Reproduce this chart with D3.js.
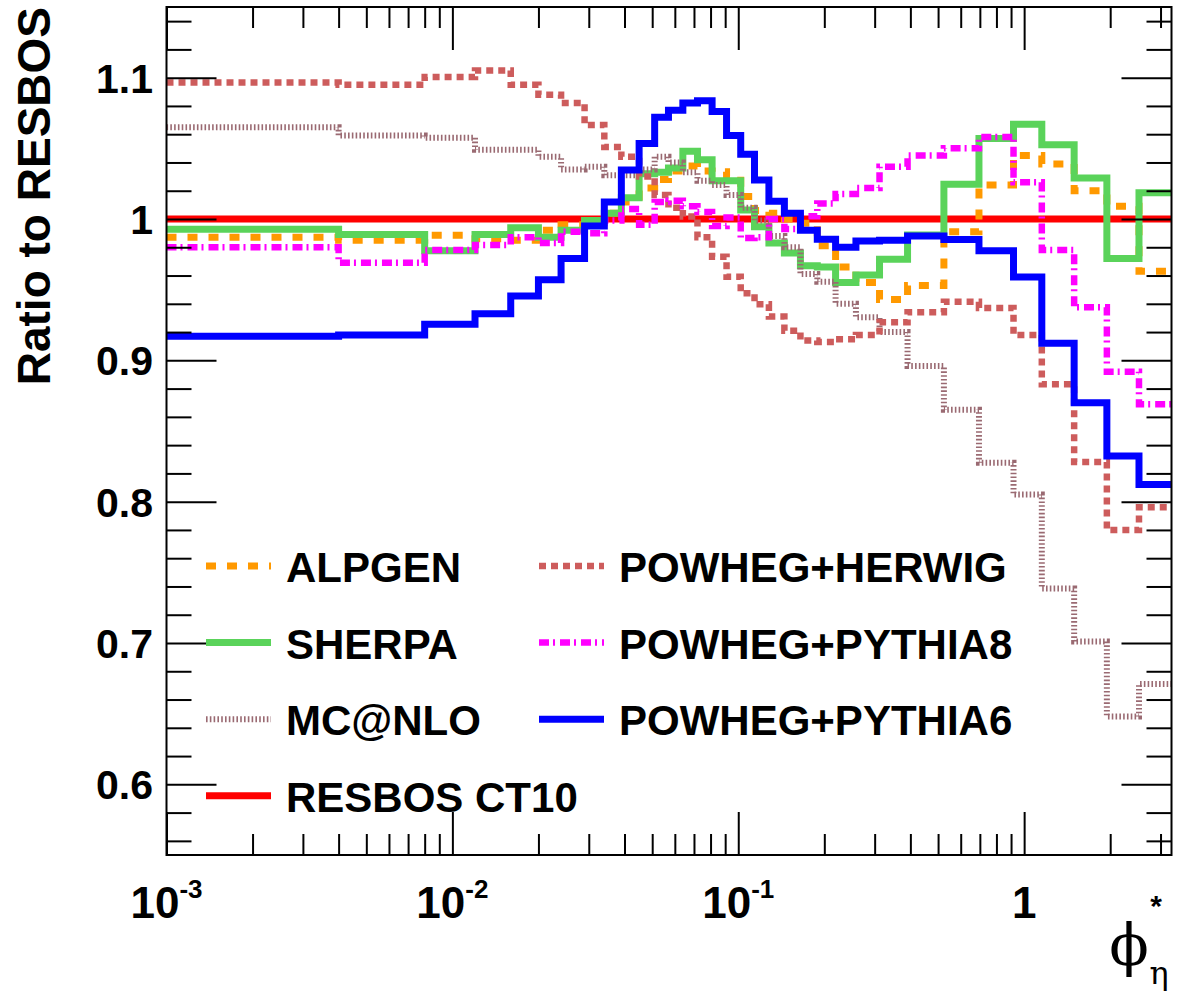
<!DOCTYPE html>
<html>
<head>
<meta charset="utf-8">
<script src="https://cdn.jsdelivr.net/npm/d3@7"></script>
<style>
  html, body { margin: 0; padding: 0; background: #fff; }
  svg { display: block; }
  text { font-family: "Liberation Sans", Arial, Helvetica, sans-serif; font-weight: bold; fill: #000; }
</style>
</head>
<body>
<svg id="chart" width="1177" height="1001"></svg>
<script>
// ---------------- data ----------------
const binEdges = [0, 0.004, 0.008, 0.012, 0.016, 0.020, 0.024, 0.029, 0.034, 0.039, 0.045,
  0.051, 0.057, 0.064, 0.072, 0.081, 0.091, 0.102, 0.114, 0.128, 0.145, 0.165, 0.189,
  0.219, 0.258, 0.312, 0.391, 0.524, 0.695, 0.918, 1.153, 1.496, 1.947, 2.522, 3.277];

const resbos = [1, 1, 1, 1, 1, 1, 1, 1, 1, 1, 1, 1, 1, 1, 1, 1, 1,
  1, 1, 1, 1, 1, 1, 1, 1, 1, 1, 1, 1, 1, 1, 1, 1, 1];
const alpgen = [0.987, 0.985, 0.9885, 0.986, 0.985, 0.992, 0.996, 0.999, 1.004, 1.012, 1.022,
  1.028, 1.034, 1.0375, 1.034, 1.0335, 1.030, 1.016, 1.006, 1.004, 1.000, 0.997, 0.981,
  0.966, 0.955, 0.943, 0.953, 0.991, 1.024, 1.045, 1.039, 1.020, 1.009, 0.963];
const sherpa = [0.9927, 0.989, 0.9776, 0.989, 0.9938, 0.987, 0.992, 0.999, 1.004, 1.015, 1.032,
  1.033, 1.036, 1.048, 1.042, 1.027, 1.027, 1.0064, 0.9946, 0.983, 0.976, 0.967, 0.966,
  0.955, 0.9604, 0.9715, 0.9887, 1.0245, 1.057, 1.067, 1.0525, 1.029, 0.972, 1.0186];
const mcatnlo = [1.065, 1.059, 1.0575, 1.049, 1.049, 1.044, 1.035, 1.037, 1.031, 1.031, 1.035,
  1.044, 1.040, 1.033, 1.027, 1.024, 1.017, 1.008, 0.999, 0.988, 0.980, 0.961, 0.9556,
  0.940, 0.9305, 0.920, 0.896, 0.865, 0.8276, 0.805, 0.7386, 0.701, 0.648, 0.671];
const powhegHerwig = [1.0965, 1.095, 1.1005, 1.105, 1.095, 1.088, 1.082, 1.0665, 1.051, 1.044, 1.030,
  1.017, 1.008, 1.0017, 0.987, 0.9733, 0.9592, 0.9474, 0.9396, 0.931, 0.921, 0.914, 0.913,
  0.915, 0.918, 0.927, 0.934, 0.9415, 0.937, 0.918, 0.883, 0.828, 0.780, 0.796];
const powhegPythia8 = [0.980, 0.969, 0.978, 0.9816, 0.987, 0.983, 0.991, 0.990, 0.999, 1.007, 0.996,
  1.012, 1.013, 1.009, 1.005, 0.995, 1.001, 0.9865, 0.987, 1.000, 0.993, 1.002, 1.011,
  1.0177, 1.022, 1.037, 1.045, 1.050, 1.058, 1.026, 0.978, 0.9375, 0.892, 0.869];
const powhegPythia6 = [0.917, 0.918, 0.9255, 0.933, 0.9455, 0.957, 0.972, 0.995, 1.012, 1.0347, 1.0535,
  1.072, 1.077, 1.082, 1.0837, 1.076, 1.059, 1.0458, 1.0276, 1.0125, 1.004, 0.992, 0.9856,
  0.980, 0.9844, 0.985, 0.988, 0.9855, 0.9776, 0.959, 0.912, 0.870, 0.8323, 0.8122];

const seriesNames = ["RESBOS CT10", "ALPGEN", "SHERPA", "MC@NLO", "POWHEG+HERWIG", "POWHEG+PYTHIA8", "POWHEG+PYTHIA6"];
const yTickLabels = ["0.6", "0.7", "0.8", "0.9", "1", "1.1"];
const xTickLabels = [["10", "-3"], ["10", "-2"], ["10", "-1"], ["1", ""]];

// ---------------- layout ----------------
const svg = d3.select("#chart");
const L = 166.5, R = 1171.5, T = 7, B = 855;
const xMin = 0.001, xMax = 3.277;
const x = d3.scaleLog().domain([xMin, xMax]).range([L, R]);
const y = d3.scaleLinear().domain([0.55, 1.15]).range([B, T]);

const styles = {
  "RESBOS CT10":     { data: resbos,        color: "#ff0000", width: 7,   dash: null },
  "ALPGEN":          { data: alpgen,        color: "#ff9900", width: 7,   dash: "10,11" },
  "SHERPA":          { data: sherpa,        color: "#5ad35a", width: 7,   dash: null },
  "MC@NLO":          { data: mcatnlo,       color: "#9a6a72", width: 6,   dash: "1.6,2.2" },
  "POWHEG+HERWIG":   { data: powhegHerwig,  color: "#cd5c5c", width: 6.5, dash: "7,5" },
  "POWHEG+PYTHIA8":  { data: powhegPythia8, color: "#ff00ff", width: 6.5, dash: "10,4,2,5" },
  "POWHEG+PYTHIA6":  { data: powhegPythia6, color: "#0000ff", width: 7,   dash: null }
};

svg.append("defs").append("clipPath").attr("id", "plotclip")
  .append("rect").attr("x", L).attr("y", T).attr("width", R - L).attr("height", B - T);

// ---------------- histograms ----------------
function stepPoints(vals) {
  const pts = [];
  vals.forEach((v, i) => {
    pts.push([Math.max(binEdges[i], xMin), v]);
    pts.push([binEdges[i + 1], v]);
  });
  return pts;
}
const line = d3.line().x(d => x(d[0])).y(d => y(d[1]));
const gPlot = svg.append("g").attr("clip-path", "url(#plotclip)");
seriesNames.forEach(name => {
  const s = styles[name];
  gPlot.append("path")
    .attr("d", line(stepPoints(s.data)))
    .attr("fill", "none")
    .attr("stroke", s.color)
    .attr("stroke-width", s.width)
    .attr("stroke-dasharray", s.dash)
    .attr("stroke-linejoin", "miter")
    .attr("stroke-linecap", "butt");
});

// ---------------- axes ----------------
const allXTicks = x.ticks(40).filter(t => t >= xMin && t <= xMax);
const majorX = allXTicks.filter(t => Math.abs(Math.log10(t) - Math.round(Math.log10(t))) < 1e-9);
const minorX = allXTicks.filter(t => !majorX.includes(t));
const majorY = d3.range(0.6, 1.1001, 0.1).map(v => +v.toFixed(2));
const minorY = d3.range(0.56, 1.1401, 0.02).map(v => +v.toFixed(2)).filter(v => !majorY.some(m => Math.abs(m - v) < 1e-6));

function axisGroup(axis, tr) {
  const g = svg.append("g").attr("transform", tr).call(axis);
  g.select(".domain").remove();
  g.selectAll("line").attr("stroke", "#000").attr("stroke-width", 2);
  g.selectAll("text").remove();
  return g;
}
axisGroup(d3.axisBottom(x).tickValues(minorX).tickSize(-21).tickFormat(""), `translate(0,${B})`);
axisGroup(d3.axisBottom(x).tickValues(majorX).tickSize(-43).tickFormat(""), `translate(0,${B})`);
axisGroup(d3.axisTop(x).tickValues(minorX).tickSize(-21).tickFormat(""), `translate(0,${T})`);
axisGroup(d3.axisTop(x).tickValues(majorX).tickSize(-43).tickFormat(""), `translate(0,${T})`);
axisGroup(d3.axisLeft(y).tickValues(minorY).tickSize(-25).tickFormat(""), `translate(${L},0)`);
axisGroup(d3.axisLeft(y).tickValues(majorY).tickSize(-50).tickFormat(""), `translate(${L},0)`);
axisGroup(d3.axisRight(y).tickValues(minorY).tickSize(-25).tickFormat(""), `translate(${R},0)`);
axisGroup(d3.axisRight(y).tickValues(majorY).tickSize(-50).tickFormat(""), `translate(${R},0)`);

svg.append("rect").attr("x", L).attr("y", T).attr("width", R - L).attr("height", B - T)
  .attr("fill", "none").attr("stroke", "#000").attr("stroke-width", 2);

// y tick labels
majorY.forEach((v, i) => {
  svg.append("text").attr("x", 153).attr("y", y(v) + 15)
    .attr("text-anchor", "end").attr("font-size", 41).text(yTickLabels[i]);
});
// x tick labels
majorX.forEach((v, i) => {
  const t = svg.append("text").attr("x", x(v)).attr("y", 918)
    .attr("text-anchor", "middle").attr("font-size", 44);
  t.append("tspan").text(xTickLabels[i][0]);
  if (xTickLabels[i][1]) t.append("tspan").attr("dy", -20).attr("font-size", 26).text(xTickLabels[i][1]);
});

// axis titles
svg.append("text").attr("transform", "translate(50,7) rotate(-90)")
  .attr("text-anchor", "end").attr("font-size", 46).text("Ratio to RESBOS");
svg.append("text").attr("x", 1129).attr("y", 965).attr("text-anchor", "middle")
  .style("font-family", "'DejaVu Serif', 'Liberation Serif', serif").style("font-weight", "normal")
  .attr("font-size", 58).text("\u03D5");
svg.append("text").attr("x", 1156).attr("y", 916).attr("text-anchor", "middle")
  .attr("font-size", 30).text("*");
svg.append("text").attr("x", 1159).attr("y", 984).attr("text-anchor", "middle")
  .style("font-family", "'DejaVu Serif', 'Liberation Serif', serif").style("font-weight", "normal")
  .attr("font-size", 32).text("\u03B7");

// ---------------- legend ----------------
const legendEntries = [
  { name: "ALPGEN", col: 0, row: 0 },
  { name: "SHERPA", col: 0, row: 1 },
  { name: "MC@NLO", col: 0, row: 2 },
  { name: "RESBOS CT10", col: 0, row: 3 },
  { name: "POWHEG+HERWIG", col: 1, row: 0 },
  { name: "POWHEG+PYTHIA8", col: 1, row: 1 },
  { name: "POWHEG+PYTHIA6", col: 1, row: 2 }
];
const colX = [206, 539], rowY0 = 566, rowDY = 76.6;
legendEntries.forEach(e => {
  const s = styles[e.name];
  const cy = rowY0 + e.row * rowDY;
  svg.append("line").attr("x1", colX[e.col]).attr("x2", colX[e.col] + 65)
    .attr("y1", cy).attr("y2", cy)
    .attr("stroke", s.color).attr("stroke-width", s.width)
    .attr("stroke-dasharray", s.dash);
  svg.append("text").attr("x", colX[e.col] + 80).attr("y", cy + 16)
    .attr("font-size", 42).text(e.name);
});
</script>
</body>
</html>
